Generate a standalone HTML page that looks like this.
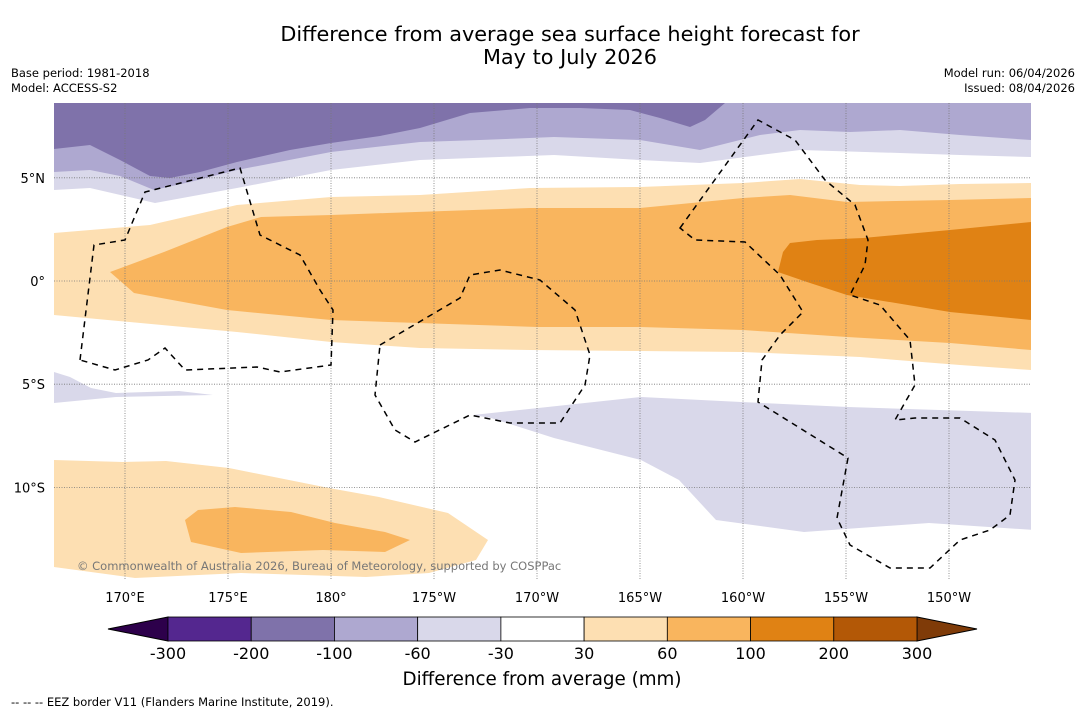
<!DOCTYPE html>
<html><head><meta charset="utf-8"><style>
body{margin:0;background:#fff;width:1085px;height:713px;overflow:hidden;font-family:"DejaVu Sans","Liberation Sans",sans-serif}
svg{display:block}
</style></head><body>
<svg id="chart" width="1085" height="713" xmlns="http://www.w3.org/2000/svg">
<text x="570" y="41" text-anchor="middle" font-size="20.8">Difference from average sea surface height forecast for</text>
<text x="570" y="64" text-anchor="middle" font-size="20.8">May to July 2026</text>
<text x="11" y="77" font-size="11.5">Base period: 1981-2018</text>
<text x="11" y="92" font-size="11.5">Model: ACCESS-S2</text>
<text x="1075" y="77" font-size="11.5" text-anchor="end">Model run: 06/04/2026</text>
<text x="1075" y="92" font-size="11.5" text-anchor="end">Issued: 08/04/2026</text>

<g id="map">
<clipPath id="clip"><rect x="54" y="103" width="977" height="477"/></clipPath>
<g clip-path="url(#clip)">
<rect x="54" y="103" width="977" height="477" fill="#fff"/>
<path fill="#d9d8ea" d="M54,103 L1031,103 L1031,157 L960,155 L900,153 L800,150 L760,155 L700,163 L640,160 L554,155 L420,160 L331,170 L237,188 L155,203 L90,188 L54,190 Z"/>
<path fill="#aea8d0" d="M54,103 L1031,103 L1031,140 L960,135 L900,130 L850,132 L800,130 L760,135 L700,150 L640,140 L554,137 L480,140 L420,142 L331,152 L237,170 L190,182 L154,190 L120,176 L90,170 L54,172 Z"/>
<path fill="#7f72aa" d="M54,103 L725,103 L705,120 L690,127 L660,118 L630,110 L580,108 L530,108 L470,113 L420,128 L380,136 L331,143 L290,150 L237,162 L200,172 L170,178 L150,176 L120,160 L90,145 L54,149 Z"/>
<path fill="#fddfb2" d="M54,233 L150,225 L237,205 L331,197 L420,195 L530,188 L640,187 L743,183 L800,179 L860,185 L900,186 L960,184 L1031,183 L1031,370 L960,365 L860,357 L743,352 L640,351 L530,350 L420,348 L331,342 L237,332 L54,315 Z"/>
<path fill="#f9b55e" d="M110,272 L164,252 L227,227 L261,217 L331,215 L387,213 L530,208 L640,208 L743,198 L790,195 L847,202 L950,200 L1031,198 L1031,350 L950,343 L847,337 L743,330 L640,327 L537,327 L331,320 L227,310 L134,293 Z"/>
<path fill="#e08214" d="M783,252 L790,243 L817,240 L863,238 L950,230 L1031,222 L1031,320 L950,312 L847,295 L807,282 L778,272 Z"/>
<path fill="#d9d8ea" d="M54,372 L70,377 L91,388 L116,393 L179,391 L213,395 L116,397 L54,403 Z"/>
<path fill="#d9d8ea" d="M473,415 L529,409 L641,397 L741,402 L848,407 L1034,413 L1034,530 L929,523 L804,532 L716,520 L679,480 L641,460 L554,438 L491,418 Z"/>
<path fill="#fddfb2" d="M54,460 L123,462 L166,461 L229,468 L329,488 L379,497 L448,513 L488,540 L476,560 L429,573 L366,577 L241,573 L135,578 L54,567 Z"/>
<path fill="#f9b55e" d="M185,520 L198,510 L235,507 L291,512 L335,523 L385,532 L410,540 L385,552 L323,550 L241,553 L191,542 Z"/>
<g id="grid" stroke="#777" stroke-width="0.8" stroke-dasharray="1,1.5"></g>
<g fill="none" stroke="#000" stroke-width="1.5" stroke-dasharray="6,5">
<path d="M80,360 L94,245 L125,240 L145,192 L240,168 L260,235 L300,255 L320,290 L333,310 L331,365 L280,372 L257,367 L185,370 L165,348 L148,360 L115,370 Z"/>
<path d="M380,345 L460,298 L470,275 L500,270 L540,280 L575,310 L590,355 L585,385 L560,423 L510,423 L470,415 L415,442 L395,430 L375,395 Z"/>
<path d="M680,228 L758,120 L795,140 L825,180 L855,205 L868,240 L865,265 L850,295 L880,305 L910,340 L915,385 L895,420 L915,418 L960,418 L995,440 L1015,480 L1010,515 L990,530 L960,540 L930,568 L890,568 L850,545 L837,518 L848,458 L758,402 L762,360 L780,335 L803,312 L780,275 L745,242 L695,240 Z"/>
</g>
<text x="77" y="570" font-size="11.5" fill="#777">© Commonwealth of Australia 2026, Bureau of Meteorology, supported by COSPPac</text>
</g>
<g id="axisLabels" font-size="13"></g>
</g>

<g id="colorbar"></g>
<text x="542" y="685" text-anchor="middle" font-size="18.3">Difference from average (mm)</text>
<text x="11" y="706" font-size="11.5">--  --  -- EEZ border V11 (Flanders Marine Institute, 2019).</text>
</svg>
<script>
const lonTicks=[170,175,180,185,190,195,200,205,210];
const lonLabels=["170°E","175°E","180°","175°W","170°W","165°W","160°W","155°W","150°W"];
const latTicks=[5,0,-5,-10];
const latLabels=["5°N","0°","5°S","10°S"];
const cbLevels=[-300,-200,-100,-60,-30,30,60,100,200,300];
const cbColors=["#54278f","#7f72aa","#aea8d0","#d9d8ea","#ffffff","#fddfb2","#f9b55e","#e08214","#b35806"];
const cbUnder="#2d004b", cbOver="#7f3b08";
const NS="http://www.w3.org/2000/svg";
const xLon=l=>125+(l-170)*20.6;
const yLat=l=>281-l*20.64;
function mk(tag,attrs,parent){const e=document.createElementNS(NS,tag);for(const k in attrs)e.setAttribute(k,attrs[k]);parent.appendChild(e);return e;}
const grid=document.getElementById('grid'),al=document.getElementById('axisLabels');
lonTicks.forEach((l,i)=>{
 const ln=mk('line',{x1:xLon(l),x2:xLon(l),y1:103,y2:580},grid);
 
 
 const t=mk('text',{x:xLon(l),y:602,'text-anchor':'middle'},al);t.textContent=lonLabels[i];
 
 
});
latTicks.forEach((l,i)=>{
 const ln=mk('line',{x1:54,x2:1031,y1:yLat(l),y2:yLat(l)},grid);
 
 
 const t=mk('text',{x:45,y:yLat(l)+5,'text-anchor':'end'},al);t.textContent=latLabels[i];
 
 
});
const cb=document.getElementById('colorbar');
const x0=168,x1=917,y0=617,h=24,n=cbColors.length,w=(x1-x0)/n;
const under=mk('polygon',{points:`${x0},${y0} ${x0},${y0+h} 108,${y0+h/2}`,fill:cbUnder,stroke:'#000','stroke-width':1},cb);


const over=mk('polygon',{points:`${x1},${y0} ${x1},${y0+h} 977,${y0+h/2}`,fill:cbOver,stroke:'#000','stroke-width':1},cb);


cbColors.forEach((c,i)=>{
 const r=mk('rect',{x:x0+i*w,y:y0,width:w,height:h,fill:c,stroke:'#000','stroke-width':0.8},cb);
 
 
});
cbLevels.forEach((v,i)=>{
 const t=mk('text',{x:x0+i*w,y:659,'text-anchor':'middle','font-size':16},cb);t.textContent=v;
 
 
});
</script>
</body></html>
